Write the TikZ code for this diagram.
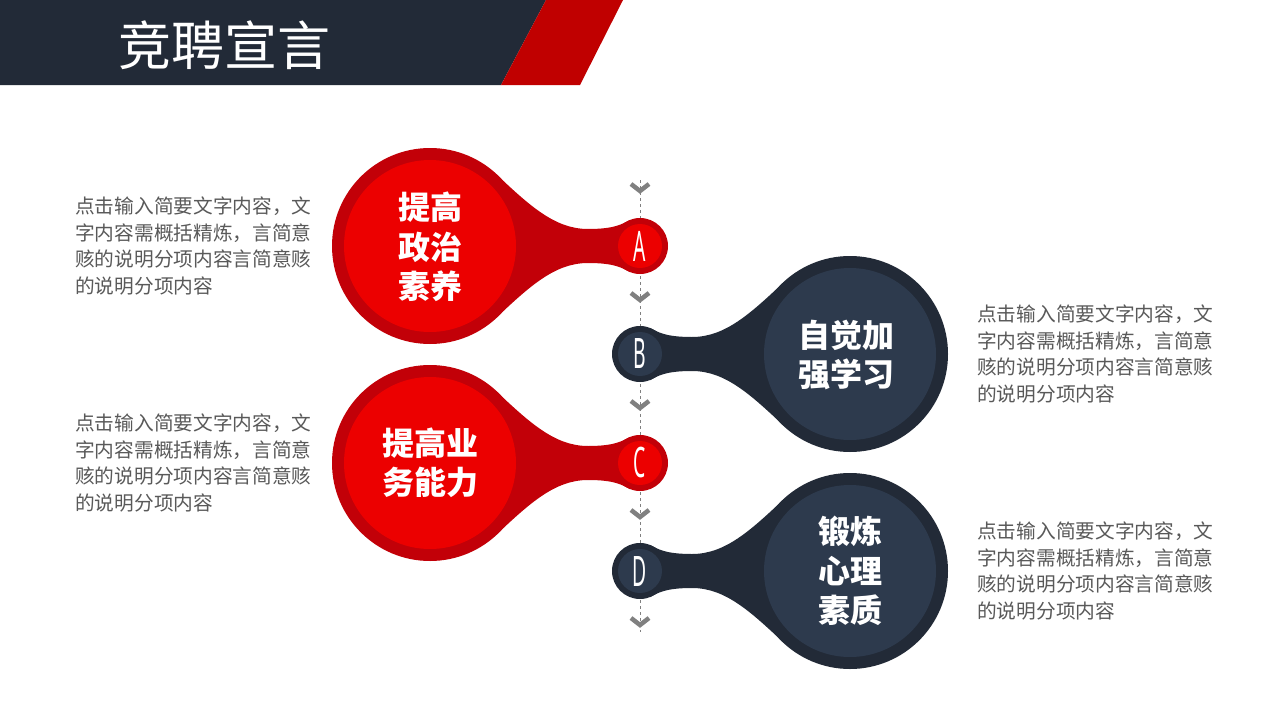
\documentclass[tikz,border=0pt]{standalone}
\usepackage{fontspec}
\setmainfont{Noto Sans CJK SC}
\newfontfamily\latinfont{Noto Sans}
\usepackage{xcolor}
\usetikzlibrary{positioning,calc}
\definecolor{navy}{HTML}{222A37}
\definecolor{navyin}{HTML}{2D3A4D}
\definecolor{redrim}{HTML}{C20008}
\definecolor{redin}{HTML}{EC0000}
\definecolor{txtgray}{HTML}{595959}
\definecolor{chevgray}{HTML}{808080}
\definecolor{hdred}{HTML}{C00000}
\tikzset{
  desc/.style={anchor=west, align=left, text=txtgray, inner sep=0pt,
    font=\fontsize{19.7}{26.5}\selectfont},
  bigtext/.style={align=center, text=white, inner sep=0pt,
    font=\bfseries\fontsize{32}{39.5}\selectfont},
  letter/.style={text=white, inner sep=0pt, xscale=0.46,
    font=\latinfont\fontsize{42}{42}\selectfont},
  chev/.style={chevgray, line width=4.5pt},
  spine/.style={chevgray, line width=0.8pt, dash pattern=on 3pt off 3pt}
}
% one bulb: big circle, neck and small circle
\newcommand{\bulb}[3]{%
  \begin{scope}[#1]
    \fill[#2] (0,0) circle (98pt);
    \fill[#2] (210,0) circle (28pt);
    \fill[#2] (66,-72) .. controls (100,-40) and (125,-17) .. (158,-17)
      .. controls (185,-17) and (192,-22) .. (200,-26) -- (200,26)
      .. controls (192,22) and (185,17) .. (158,17)
      .. controls (125,17) and (100,40) .. (66,72) -- cycle;
    \fill[#3] (0,0) circle (86pt);
    \fill[#3] (210,0) circle (22pt);
  \end{scope}}
\begin{document}
\begin{tikzpicture}[x=1pt, y=-1pt]
    \useasboundingbox (0,0) rectangle (1280,720);
    \fill[white] (0,0) rectangle (1280,720);

    % Header bar
    \fill[navy] (0,0) -- (546,0) -- (501,85) -- (0,85) -- cycle;
    \fill[hdred] (546,0) -- (623,0) -- (580,85) -- (501,85) -- cycle;
    \node[text=white, font=\fontsize{53}{53}\selectfont] (head) at (224,45) {竞聘宣言};

    % Dashed spine
    \coordinate (top) at (640,180);
    \coordinate (bot) at (640,632);
    \draw[spine] (top) -- (bot);

    % Chevrons
    \draw[chev] (631,184) -- (640,191) -- (649,184);
    \draw[chev] (631,293) -- (640,300) -- (649,293);
    \draw[chev] (631,401) -- (640,408) -- (649,401);
    \draw[chev] (631,510) -- (640,517) -- (649,510);
    \draw[chev] (631,618) -- (640,625) -- (649,618);

    % Bulbs
    \bulb{shift={(430,246)}}{redrim}{redin}
    \bulb{shift={(850,354)}, xscale=-1}{navy}{navyin}
    \bulb{shift={(430,463)}}{redrim}{redin}
    \bulb{shift={(850,571)}, xscale=-1}{navy}{navyin}

    % Letters
    \node[letter] (A) at (640,246) {A};
    \node[letter] (B) at (640,354) {B};
    \node[letter] (C) at (640,463) {C};
    \node[letter] (D) at (640,571) {D};

    % Titles in the big circles
    \node[bigtext] (tA) at (430,247) {提高\\政治\\素养};
    \node[bigtext] (tB) at (846,355) {自觉加\\强学习};
    \node[bigtext] (tC) at (430,463) {提高业\\务能力};
    \node[bigtext] (tD) at (850,571) {锻炼\\心理\\素质};

    % Descriptions
    \node[desc] (dA) at (75,246) {点击输入简要文字内容，文\\字内容需概括精炼，言简意\\赅的说明分项内容言简意赅\\的说明分项内容};
    \node[desc] (dB) at (977,354) {点击输入简要文字内容，文\\字内容需概括精炼，言简意\\赅的说明分项内容言简意赅\\的说明分项内容};
    \node[desc] (dC) at (75,463) {点击输入简要文字内容，文\\字内容需概括精炼，言简意\\赅的说明分项内容言简意赅\\的说明分项内容};
    \node[desc] (dD) at (977,571) {点击输入简要文字内容，文\\字内容需概括精炼，言简意\\赅的说明分项内容言简意赅\\的说明分项内容};
\end{tikzpicture}
\end{document}
